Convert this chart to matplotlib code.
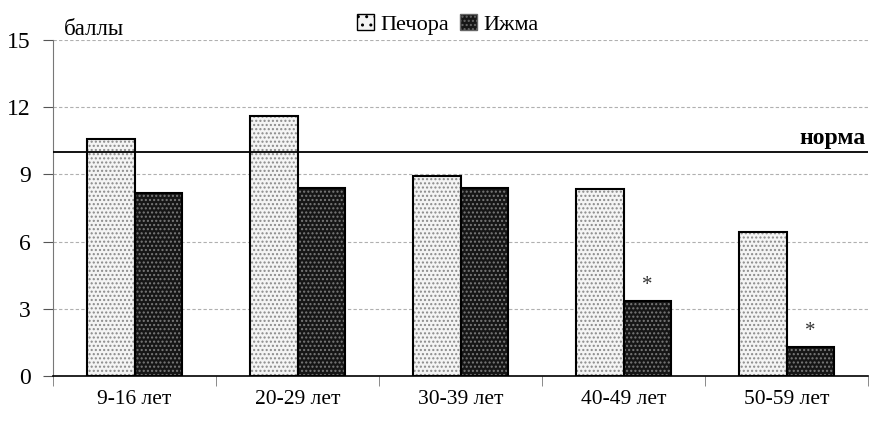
import matplotlib.pyplot as plt
import matplotlib
from matplotlib.patches import Patch
import numpy as np

plt.rcParams['font.family'] = ['Liberation Serif', 'DejaVu Serif']

groups = ["9-16 лет", "20-29 лет", "30-39 лет", "40-49 лет", "50-59 лет"]
pechora = [10.6, 11.6, 8.93, 8.35, 6.43]
izhma = [8.15, 8.4, 8.4, 3.35, 1.3]
norma = 10.0
star_idx = [3, 4]

x = np.arange(len(groups))
w = 0.29

fig = plt.figure(figsize=(8.7, 4.21), dpi=100)
ax = fig.add_axes([0.061, 0.107, 0.937, 0.798])

for vals, off, fc, hc in [(pechora, -w/2, '#f4f4f4', '#8a8a8a'),
                          (izhma, w/2, '#161616', '#7a7a7a')]:
    ax.bar(x + off, vals, w, color=fc, linewidth=0, zorder=2)
    ax.bar(x + off, vals, w, fill=False, edgecolor=hc, hatch='....', linewidth=0, zorder=3)
    ax.bar(x + off, vals, w, fill=False, edgecolor='black', linewidth=1.5, zorder=4)

ax.axhline(norma, color='black', linewidth=1.3, zorder=5)
ax.text(4.5 - 0.015, norma + 0.15, "норма", ha='right', va='bottom', fontsize=17, fontweight='bold')

for i in star_idx:
    ax.text(x[i] + w/2, izhma[i] + 0.25, "*", ha='center', va='bottom', fontsize=15, color='#333333')

ax.set_xlim(-0.5, 4.5)
ax.set_ylim(0, 15)
ax.set_yticks([0, 3, 6, 9, 12, 15])
ax.yaxis.grid(True, linestyle=(0, (3, 2)), color='#b0b0b0', linewidth=0.8)
ax.set_axisbelow(True)

ax.set_xticks(x)
ax.set_xticklabels(groups, fontsize=15.5)
ax.tick_params(axis='x', length=0, pad=10)
ax.set_xticks(np.arange(-0.5, 5, 1), minor=True)
ax.tick_params(axis='x', which='minor', length=7, direction='out', color='#777777')
ax.tick_params(axis='y', labelsize=17, length=7, color='#555555', pad=9)

for s in ['top', 'right']:
    ax.spines[s].set_visible(False)
ax.spines['left'].set_color('#777777')
ax.spines['bottom'].set_color('black')
ax.spines['bottom'].set_linewidth(1.2)

ax.text(0.013, 1.0, "баллы", transform=ax.transAxes, fontsize=16.5, va='bottom', ha='left')

handles = [Patch(facecolor='#f4f4f4', edgecolor='black', hatch='..', label='Печора'),
           Patch(facecolor='#161616', edgecolor='#666666', hatch='....', label='Ижма')]
fig.legend(handles=handles, loc='upper center', bbox_to_anchor=(0.515, 1.015), ncol=2,
           frameon=False, fontsize=16, handlelength=0.75, handleheight=0.75,
           handletextpad=0.3, columnspacing=0.5)

fig.savefig("out.png", dpi=100)
